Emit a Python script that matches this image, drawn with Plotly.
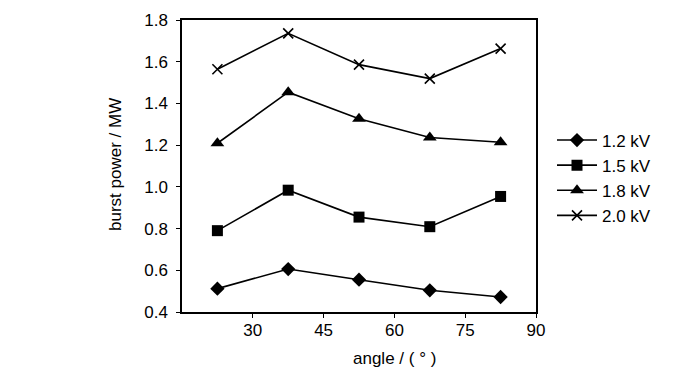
import plotly.graph_objects as go

angles = [22.5, 37.5, 52.5, 67.5, 82.5]
series_names = ["1.2 kV", "1.5 kV", "1.8 kV", "2.0 kV"]
p_12 = [0.512, 0.606, 0.555, 0.504, 0.472]
p_15 = [0.790, 0.984, 0.855, 0.809, 0.954]
p_18 = [1.209, 1.454, 1.326, 1.237, 1.214]
p_20 = [1.564, 1.736, 1.586, 1.519, 1.663]
x_ticks = [30, 45, 60, 75, 90]
y_ticks = [0.4, 0.6, 0.8, 1.0, 1.2, 1.4, 1.6, 1.8]

FONT = "Liberation Sans, Arial, sans-serif"
FS = 17

L, R, T, B = 182, 164, 20, 61
W, H = 700, 373
pw = W - L - R
ph = H - T - B

fig = go.Figure()
styles = [
    dict(symbol="diamond", size=11, line=dict(width=0)),
    dict(symbol="square", size=11, line=dict(width=0)),
    dict(symbol="triangle-up", size=12, line=dict(width=0)),
    dict(symbol="x-thin", size=10, line=dict(width=1.6, color="black")),
]
for name, vals, st in zip(series_names, [p_12, p_15, p_18, p_20], styles):
    fig.add_trace(go.Scatter(
        x=angles, y=vals, name=name, mode="lines+markers",
        line=dict(color="black", width=1.6),
        marker=dict(color="black", **st),
    ))


def px_x(x):
    return (x - L) / pw


def px_y(y):
    return (H - B - y) / ph


fig.update_layout(
    width=W, height=H,
    margin=dict(l=L, r=R, t=T, b=B),
    paper_bgcolor="white", plot_bgcolor="white",
    font=dict(family=FONT, size=FS, color="black"),
    showlegend=True,
    legend=dict(x=px_x(552), xanchor="left", y=px_y(178), yanchor="middle",
                font=dict(family=FONT, size=FS), tracegroupgap=0,
                itemwidth=40, bgcolor="rgba(0,0,0,0)"),
    xaxis=dict(range=[15, 90], tickvals=x_ticks, ticks="outside", ticklen=4,
               ticklabelstandoff=-2,
               showline=True, linecolor="black", linewidth=1.5, mirror=True,
               showgrid=False, zeroline=False, tickcolor="black",
               tickfont=dict(family=FONT, size=FS)),
    yaxis=dict(range=[0.4, 1.8], tickvals=y_ticks, tickformat=".1f",
               ticks="outside", ticklen=4, ticklabelstandoff=5,
               showline=True, linecolor="black", linewidth=1.5, mirror=True,
               showgrid=False, zeroline=False, tickcolor="black",
               tickfont=dict(family=FONT, size=FS)),
    annotations=[
        dict(text="angle / ( ° )", x=px_x(394), y=px_y(358), xref="paper", yref="paper",
             xanchor="center", yanchor="middle",
             showarrow=False, font=dict(family=FONT, size=FS)),
        dict(text="burst power / MW", x=px_x(115), y=px_y(165), xref="paper", yref="paper",
             xanchor="center", yanchor="middle",
             showarrow=False, textangle=-90, font=dict(family=FONT, size=FS)),
    ],
)

fig.write_html("out.html", config={"displayModeBar": False},
               post_script="document.body.style.margin='0';document.body.style.overflow='hidden';")
